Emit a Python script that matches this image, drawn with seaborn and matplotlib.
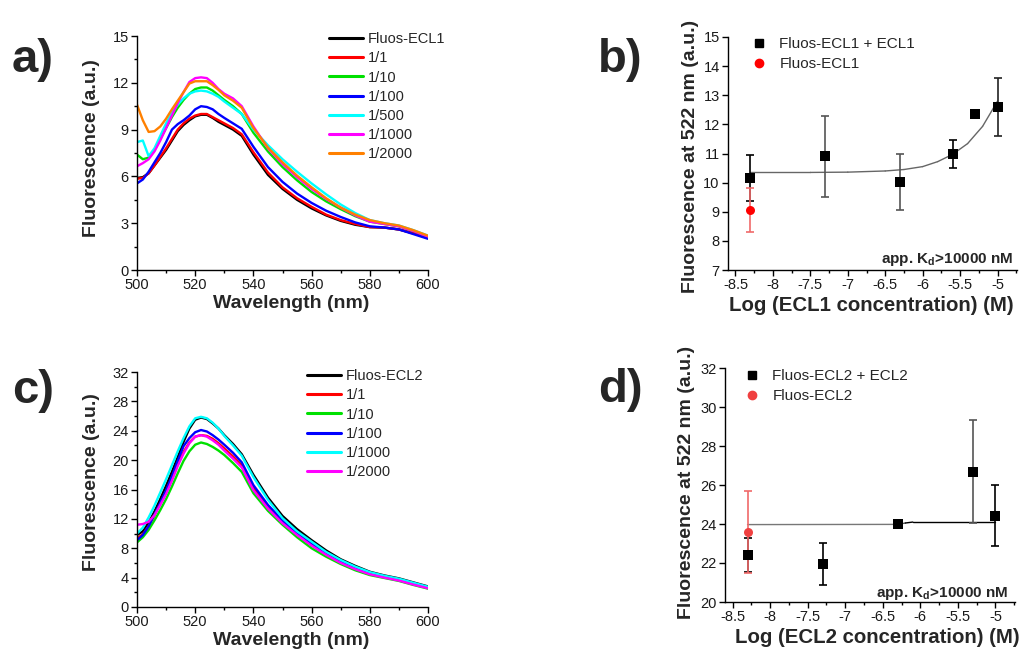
import numpy as np
import pandas as pd
import matplotlib
matplotlib.use("Agg")
import matplotlib.pyplot as plt
from matplotlib.lines import Line2D
from matplotlib.ticker import MultipleLocator
import seaborn as sns

# ---------------- data ----------------
wavelength = [500, 502, 504, 506, 508, 510, 512, 514, 516, 518, 520, 522, 524, 526, 528,
              530, 533, 536, 540, 545, 550, 555, 560, 565, 570, 575, 580, 585, 590, 595, 600]

ecl1_labels = ["Fluos-ECL1", "1/1", "1/10", "1/100", "1/500", "1/1000", "1/2000"]
ecl1_fluos = [5.9, 5.95, 6.2, 6.7, 7.2, 7.7, 8.3, 8.9, 9.3, 9.6, 9.85, 9.95, 9.95, 9.75, 9.5,
              9.3, 9.0, 8.6, 7.4, 6.1, 5.2, 4.5, 3.95, 3.5, 3.15, 2.9, 2.75, 2.72, 2.6, 2.35, 2.1]
ecl1_1 = [5.85, 5.9, 6.2, 6.7, 7.25, 7.8, 8.4, 9.0, 9.4, 9.7, 9.9, 10.0, 10.0, 9.8, 9.6,
          9.4, 9.1, 8.7, 7.55, 6.25, 5.3, 4.6, 4.05, 3.55, 3.2, 2.95, 2.75, 2.72, 2.6, 2.35, 2.05]
ecl1_10 = [7.4, 7.1, 7.2, 7.7, 8.4, 9.1, 9.8, 10.4, 10.9, 11.3, 11.6, 11.7, 11.7, 11.5, 11.2,
           10.9, 10.5, 10.0, 8.8, 7.6, 6.6, 5.75, 5.0, 4.4, 3.9, 3.45, 3.1, 2.95, 2.8, 2.5, 2.15]
ecl1_100 = [5.55, 5.8, 6.3, 6.9, 7.5, 8.2, 9.0, 9.35, 9.6, 9.9, 10.3, 10.5, 10.45, 10.3, 10.0,
            9.75, 9.4, 9.05, 7.9, 6.6, 5.65, 4.9, 4.3, 3.8, 3.4, 3.05, 2.8, 2.72, 2.6, 2.3, 2.0]
ecl1_500 = [8.2, 8.3, 7.3, 7.8, 8.6, 9.4, 10.1, 10.6, 11.0, 11.3, 11.45, 11.5, 11.45, 11.3, 11.1,
            10.8, 10.4, 10.0, 9.0, 8.0, 7.1, 6.3, 5.55, 4.85, 4.2, 3.65, 3.2, 3.0, 2.85, 2.55, 2.2]
ecl1_1000 = [6.65, 6.85, 7.1, 7.6, 8.3, 9.1, 9.9, 10.7, 11.4, 12.05, 12.3, 12.35, 12.3, 12.0, 11.6,
             11.3, 11.0, 10.5, 9.2, 7.8, 6.8, 5.95, 5.2, 4.55, 4.0, 3.5, 3.1, 2.95, 2.8, 2.5, 2.15]
ecl1_2000 = [10.6, 9.6, 8.85, 8.9, 9.2, 9.7, 10.3, 10.85, 11.4, 11.95, 12.1, 12.1, 12.1, 11.85, 11.55,
             11.2, 10.85, 10.4, 9.1, 7.85, 6.9, 6.05, 5.3, 4.6, 4.0, 3.55, 3.2, 3.0, 2.85, 2.55, 2.2]

ecl2_labels = ["Fluos-ECL2", "1/1", "1/10", "1/100", "1/1000", "1/2000"]
ecl2_fluos = [9.8, 10.3, 11.5, 13.0, 14.7, 16.5, 18.4, 20.4, 22.5, 24.3, 25.5, 25.8, 25.6, 25.0, 24.3,
              23.4, 22.2, 20.8, 18.0, 14.9, 12.4, 10.6, 9.1, 7.7, 6.5, 5.6, 4.8, 4.3, 3.9, 3.35, 2.8]
ecl2_1 = [9.35, 9.9, 11.0, 12.5, 14.1, 15.8, 17.6, 19.5, 21.1, 22.4, 23.2, 23.4, 23.3, 22.9, 22.3,
          21.6, 20.5, 19.3, 16.2, 13.6, 11.6, 9.9, 8.45, 7.2, 6.05, 5.2, 4.5, 4.05, 3.65, 3.1, 2.6]
ecl2_10 = [8.8, 9.5, 10.5, 11.8, 13.2, 14.7, 16.4, 18.2, 19.9, 21.2, 22.1, 22.4, 22.2, 21.8, 21.3,
           20.7, 19.6, 18.4, 15.5, 13.1, 11.2, 9.5, 8.0, 6.85, 5.85, 5.0, 4.35, 3.95, 3.55, 3.0, 2.5]
ecl2_100 = [9.1, 9.8, 11.0, 12.6, 14.2, 15.9, 17.8, 19.9, 21.9, 23.0, 23.8, 24.1, 23.9, 23.4, 22.8,
            22.1, 21.0, 19.7, 16.6, 13.9, 11.8, 10.1, 8.7, 7.35, 6.2, 5.3, 4.6, 4.1, 3.7, 3.15, 2.65]
ecl2_1000 = [10.0, 10.8, 12.2, 13.8, 15.6, 17.4, 19.3, 21.2, 23.0, 24.6, 25.7, 25.9, 25.7, 25.1, 24.3,
             23.3, 22.0, 20.6, 17.7, 14.6, 12.1, 10.3, 8.9, 7.5, 6.4, 5.5, 4.75, 4.25, 3.85, 3.3, 2.75]
ecl2_2000 = [11.2, 11.3, 11.6, 12.5, 13.9, 15.4, 17.2, 19.2, 20.9, 22.3, 23.2, 23.4, 23.2, 22.7, 22.1,
             21.3, 20.2, 19.0, 15.9, 13.4, 11.4, 9.8, 8.35, 7.1, 6.0, 5.15, 4.45, 4.0, 3.6, 3.05, 2.55]

# panel b: binding ECL1
b_logc = [-8.3, -7.3, -6.3, -5.6, -5.3, -5.0]
b_fluor = [10.15, 10.9, 10.02, 10.98, 12.37, 12.6]
b_err = [0.79, 1.4, 0.95, 0.48, 0.0, 1.0]
b_ctrl_logc = [-8.3]
b_ctrl_fluor = [9.07]
b_ctrl_err = [0.75]
b_fit_x = [-8.3, -7.5, -7.0, -6.5, -6.25, -6.0, -5.8, -5.6, -5.4, -5.2, -5.0]
b_fit_y = [10.35, 10.35, 10.36, 10.40, 10.45, 10.55, 10.72, 10.97, 11.34, 11.93, 12.80]

# panel d: binding ECL2
d_logc = [-8.3, -7.3, -6.3, -5.3, -5.0]
d_fluor = [22.42, 21.94, 23.98, 26.69, 24.43]
d_err = [0.86, 1.08, 0.1, 2.62, 1.55]
d_ctrl_logc = [-8.3]
d_ctrl_fluor = [23.57]
d_ctrl_err = [2.1]
d_fit_x = [-8.3, -6.3, -6.2, -6.1, -5.0]
d_fit_y = [23.97, 23.98, 24.05, 24.10, 24.10]

# ---------------- style ----------------
sns.set_theme(style="ticks")
plt.rcParams["font.family"] = ["Liberation Sans", "DejaVu Sans"]
plt.rcParams["mathtext.fontset"] = "custom"
plt.rcParams["mathtext.rm"] = "Liberation Sans"
plt.rcParams["mathtext.bf"] = "Liberation Sans:bold"
plt.rcParams["axes.linewidth"] = 1.0
plt.rcParams["axes.edgecolor"] = "black"

W, H = 1021, 653
fig = plt.figure(figsize=(W / 100, H / 100), dpi=100)


def ax_at(l, t, r, b):
    return fig.add_axes([l / W, 1 - b / H, (r - l) / W, (b - t) / H])


ax_a = ax_at(137, 36, 428, 270)
ax_b = ax_at(728, 37, 1017, 270)
ax_c = ax_at(137, 372, 428, 607)
ax_d = ax_at(725, 368, 1015, 602)

TICK_FS = 10.5
LAB_FS = 14
LEG_FS = 10.5


def style_axes(ax):
    sns.despine(ax=ax)
    ax.tick_params(which="major", direction="out", length=4, width=1, labelsize=TICK_FS,
                   colors="black", labelcolor="#1a1a1a", pad=2)
    ax.tick_params(which="minor", direction="out", length=2.5, width=1, colors="black")
    ax.set_facecolor("white")


colors_a = ["#000000", "#ff0000", "#00e000", "#0000ff", "#00ffff", "#ff00ff", "#ff8000"]
colors_c = ["#000000", "#ff0000", "#00e000", "#0000ff", "#00ffff", "#ff00ff"]


def spectra_panel(ax, labels, series, colors, ylim, ystep, ylabel_y, leg_left, leg_top):
    frames = []
    for lab, vals in zip(labels, series):
        frames.append(pd.DataFrame({"Wavelength": wavelength, "F": vals, "sample": lab}))
    df = pd.concat(frames, ignore_index=True)
    sns.lineplot(data=df, x="Wavelength", y="F", hue="sample", hue_order=labels,
                 palette=colors, linewidth=1.7, estimator=None, sort=False, ax=ax, legend=False)
    ax.set_xlim(500, 600)
    ax.set_ylim(*ylim)
    ax.xaxis.set_major_locator(MultipleLocator(20))
    ax.xaxis.set_minor_locator(MultipleLocator(10))
    ax.yaxis.set_major_locator(MultipleLocator(ystep))
    ax.yaxis.set_minor_locator(MultipleLocator(ystep / 2))
    style_axes(ax)
    ax.set_xlabel("Wavelength (nm)", fontsize=LAB_FS, fontweight="bold")
    ax.set_ylabel("Fluorescence (a.u.)", fontsize=LAB_FS, fontweight="bold")
    ax.xaxis.set_label_coords((291 - 137) / 291, -33 / 234)
    ax.xaxis.label.set_va("center")
    ax.yaxis.set_label_coords(-46 / 291, ylabel_y)
    ax.yaxis.label.set_va("center")
    handles = [Line2D([], [], color=c, lw=2.2) for c in colors]
    ax.legend(handles, labels, loc="upper left", bbox_to_anchor=(leg_left / W, 1 - leg_top / H),
              bbox_transform=fig.transFigure, frameon=False, fontsize=LEG_FS, borderpad=0,
              borderaxespad=0, handlelength=2.3, handletextpad=0.35, labelspacing=0.36)


spectra_panel(ax_a, ecl1_labels, [ecl1_fluos, ecl1_1, ecl1_10, ecl1_100, ecl1_500, ecl1_1000, ecl1_2000],
              colors_a, (0, 15), 3, 0.523, 329, 32)
spectra_panel(ax_c, ecl2_labels, [ecl2_fluos, ecl2_1, ecl2_10, ecl2_100, ecl2_1000, ecl2_2000],
              colors_c, (0, 32), 4, 0.53, 307, 369)


def binding_panel(ax, logc, fl, err, err_cols, c_logc, c_fl, c_err, fit_x, fit_y, fit_cols,
                  ylim, xlabel, leg_labels, ctrl_color, leg_left, leg_top, kd_xy, ylab_y, xlab_x):
    # fit line
    for i in range(len(fit_x) - 1):
        ax.plot(fit_x[i:i + 2], fit_y[i:i + 2], color=fit_cols[i], lw=1.0, zorder=2)
    # error bars
    for x, y, e, c in zip(logc, fl, err, err_cols):
        if e > 0:
            ax.errorbar([x], [y], yerr=[e], fmt="none", ecolor=c, elinewidth=1.2, capsize=3,
                        capthick=1.2, zorder=3)
    ax.errorbar(c_logc, c_fl, yerr=c_err, fmt="none", ecolor="#f06a6a", elinewidth=1.2, capsize=3,
                capthick=1.2, zorder=3)
    dfp = pd.DataFrame({"x": logc, "y": fl})
    sns.scatterplot(data=dfp, x="x", y="y", marker="s", s=42, color="black", edgecolor="black",
                    linewidth=0, ax=ax, zorder=5, legend=False)
    dfc = pd.DataFrame({"x": c_logc, "y": c_fl})
    sns.scatterplot(data=dfc, x="x", y="y", marker="o", s=42, color=ctrl_color, edgecolor=ctrl_color,
                    linewidth=0, ax=ax, zorder=6, legend=False)
    ax.set_xlim(-8.6, -4.74)
    ax.set_ylim(*ylim)
    ax.xaxis.set_major_locator(MultipleLocator(0.5))
    ax.xaxis.set_minor_locator(MultipleLocator(0.25))
    ax.yaxis.set_major_locator(MultipleLocator(1 if ylim[1] - ylim[0] < 10 else 2))
    style_axes(ax)
    ax.set_xticks([-8.5, -8, -7.5, -7, -6.5, -6, -5.5, -5])
    ax.set_xticklabels(["-8.5", "-8", "-7.5", "-7", "-6.5", "-6", "-5.5", "-5"])
    ax.set_xlabel(xlabel, fontsize=14.7, fontweight="bold")
    ax.set_ylabel("Fluorescence at 522 nm (a.u.)", fontsize=LAB_FS, fontweight="bold")
    ax.xaxis.set_label_coords(xlab_x, -35 / 233)
    ax.xaxis.label.set_va("center")
    ax.yaxis.set_label_coords(-38 / 289, ylab_y)
    ax.yaxis.label.set_va("center")
    handles = [Line2D([], [], ls="none", marker="s", ms=6, color="black"),
               Line2D([], [], ls="none", marker="o", ms=6, color=ctrl_color)]
    ax.legend(handles, leg_labels, loc="upper left", bbox_to_anchor=(leg_left / W, 1 - leg_top / H),
              bbox_transform=fig.transFigure, frameon=False, fontsize=11, borderpad=0,
              borderaxespad=0, handlelength=1.0, handletextpad=0.85, labelspacing=0.4)
    fig.text(kd_xy[0] / W, 1 - kd_xy[1] / H, r"app. $\mathbf{K_d}$>10000 nM", fontsize=11,
             fontweight="bold", ha="right", va="baseline")


binding_panel(ax_b, b_logc, b_fluor, b_err, ["black", "#555555", "#555555", "black", "black", "#222222"],
              b_ctrl_logc, b_ctrl_fluor, b_ctrl_err, b_fit_x, b_fit_y, ["#666666"] * 10,
              (7, 15), "Log (ECL1 concentration) (M)", ["Fluos-ECL1 + ECL1", "Fluos-ECL1"],
              "#ff0000", 751, 37, (1013, 263), 0.487, (871 - 728) / 289)
binding_panel(ax_d, d_logc, d_fluor, d_err, ["black", "black", "black", "#555555", "black"],
              d_ctrl_logc, d_ctrl_fluor, d_ctrl_err, d_fit_x, d_fit_y,
              ["#777777", "#555555", "black", "black"],
              (20, 32), "Log (ECL2 concentration) (M)", ["Fluos-ECL2 + ECL2", "Fluos-ECL2"],
              "#f04040", 744, 369, (1008, 597), 0.513, (877 - 725) / 290)

# panel letters
for letter, x, y in [("a)", 12, 72), ("b)", 598, 72), ("c)", 12, 403), ("d)", 598, 402)]:
    fig.text(x / W, 1 - y / H, letter, fontsize=34, fontweight="bold", ha="left", va="baseline")

fig.savefig("out.png", dpi=100)
